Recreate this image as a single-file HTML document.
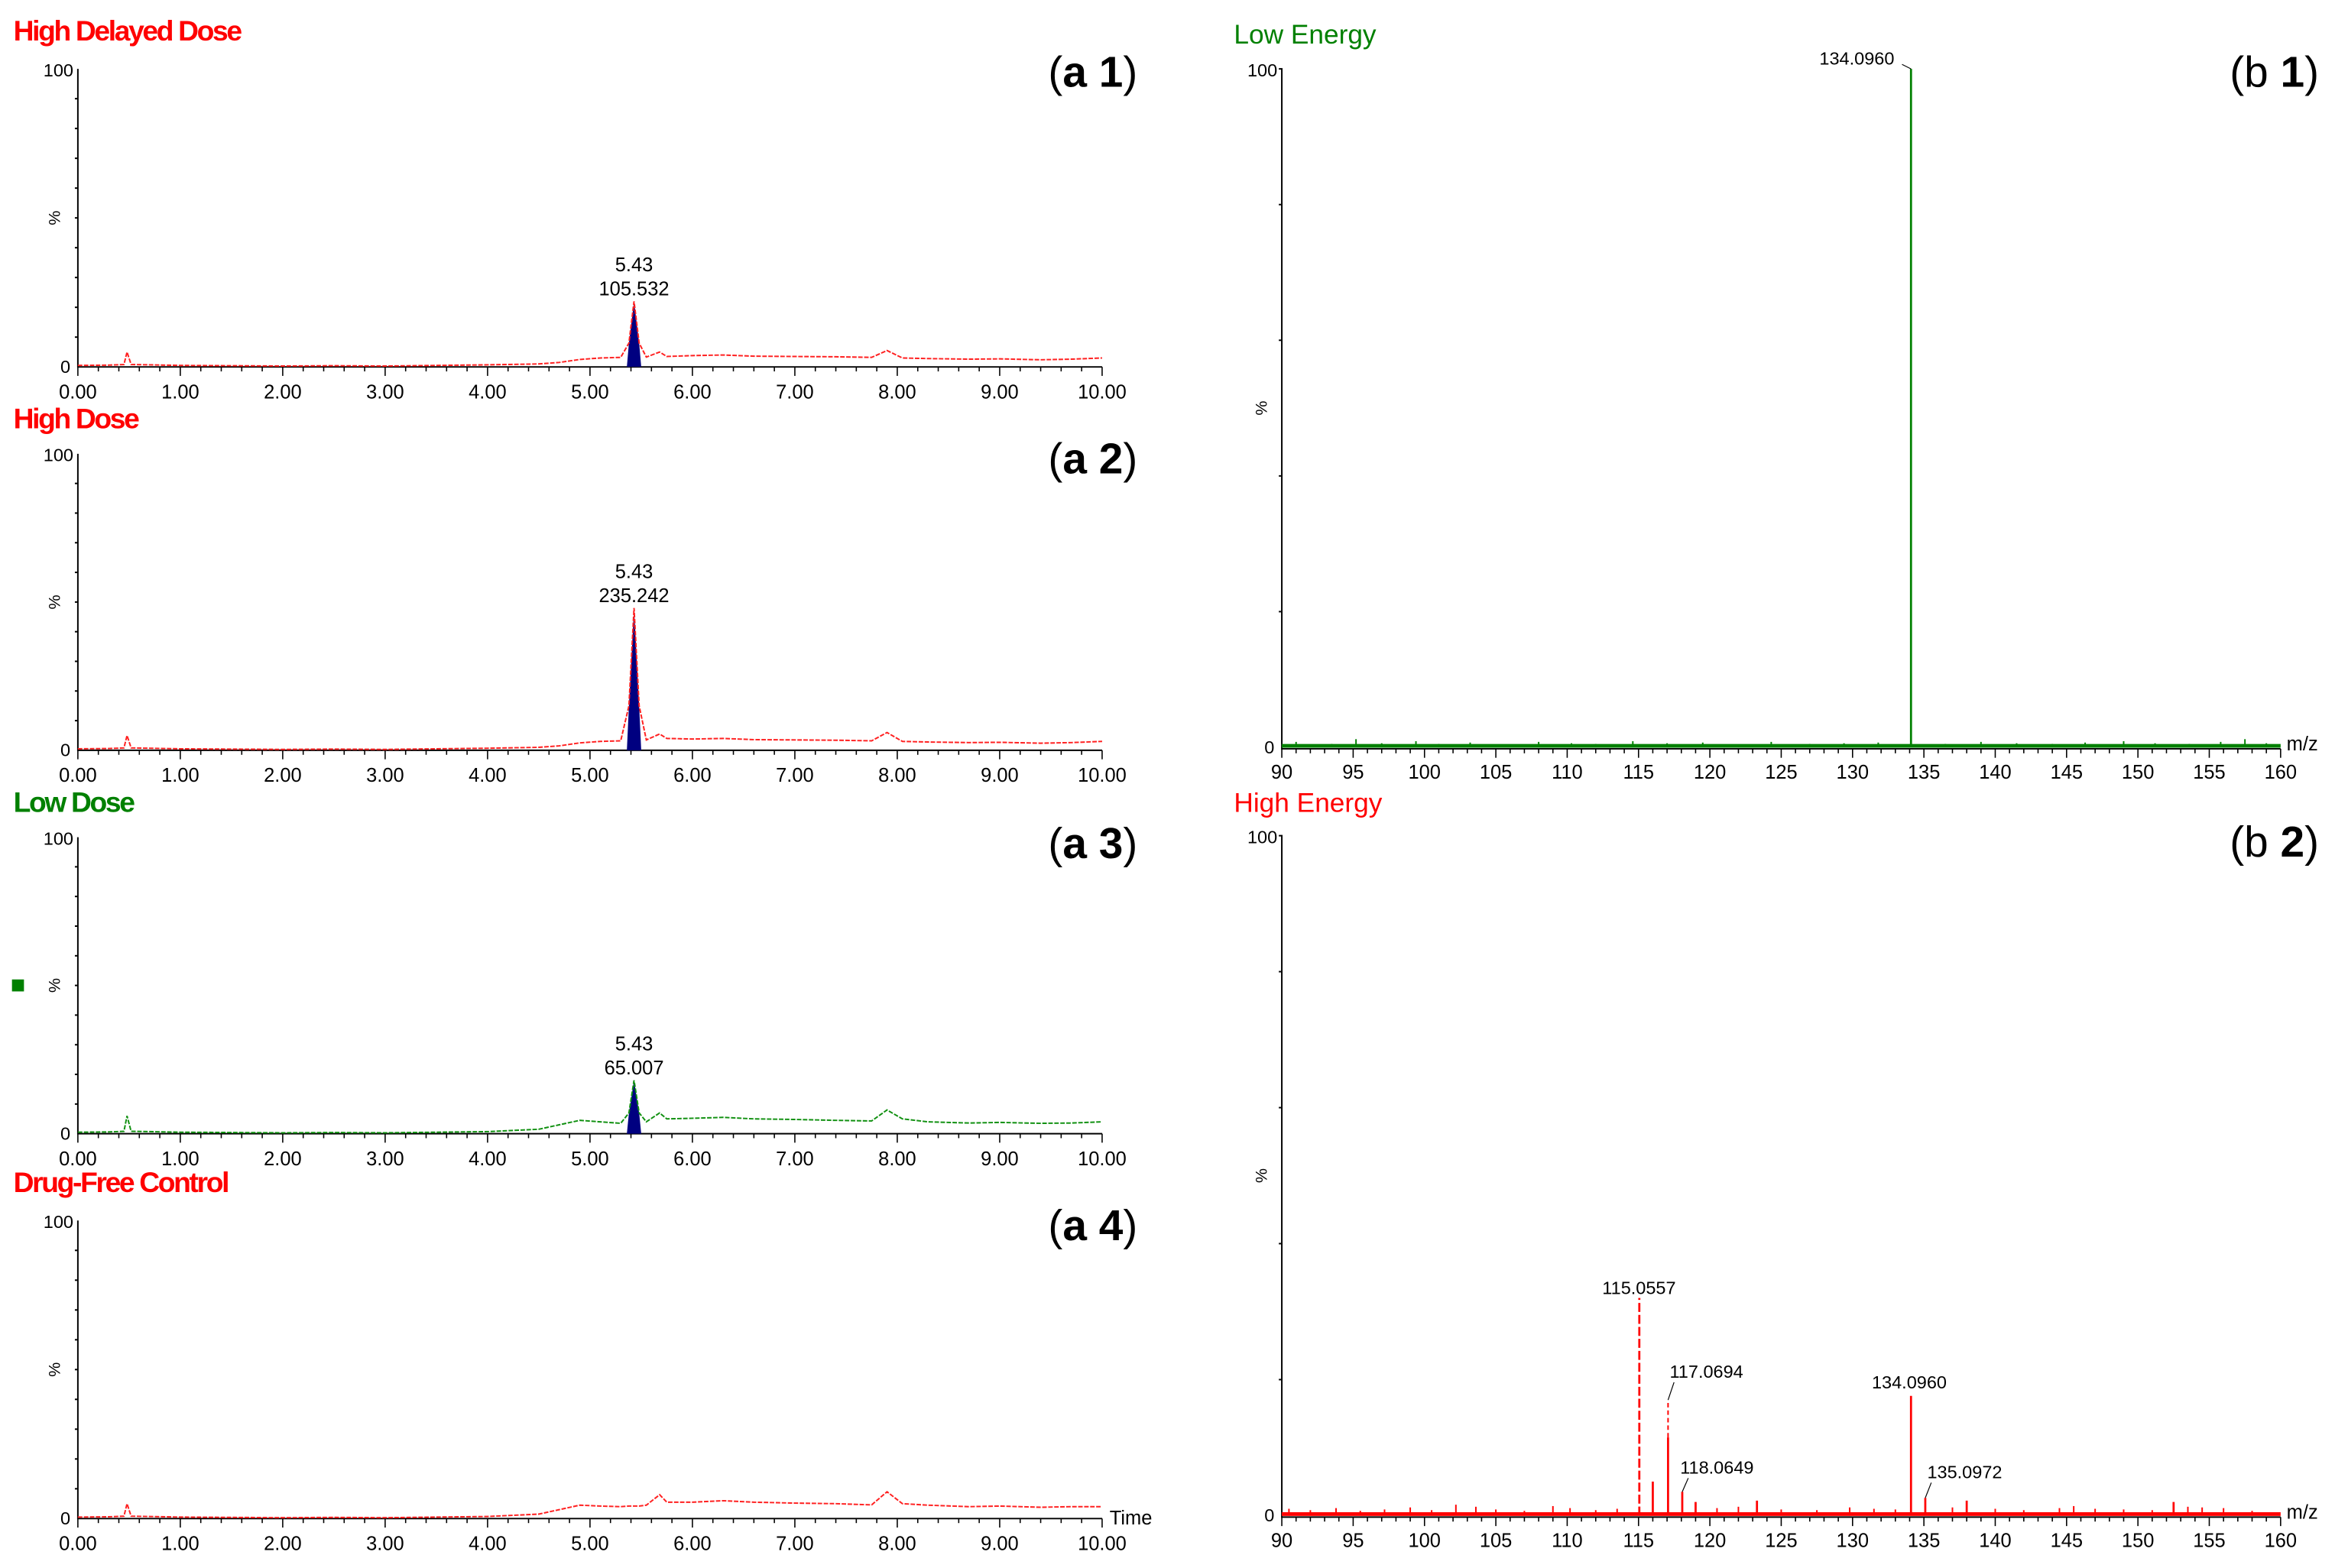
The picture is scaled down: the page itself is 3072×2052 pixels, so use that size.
<!DOCTYPE html>
<html><head><meta charset="utf-8"><style>
html,body{margin:0;padding:0;background:#fff;}
svg{display:block;}
text{font-family:"Liberation Sans",sans-serif;}
</style></head><body>
<svg id="fig" xmlns="http://www.w3.org/2000/svg" width="3072" height="2052" viewBox="0 0 1568 1047" preserveAspectRatio="none">
<rect width="1568" height="1047" fill="#fff"/>
<g id="L"></g><g id="R"></g>
<text x="9" y="27" fill="#ff0000" font-size="19" font-weight="bold" letter-spacing="-1.2">High Delayed Dose</text>
<text x="9" y="286" fill="#ff0000" font-size="19" font-weight="bold" letter-spacing="-1.2">High Dose</text>
<text x="9" y="542" fill="#008000" font-size="19" font-weight="bold" letter-spacing="-1.2">Low Dose</text>
<text x="9" y="796" fill="#ff0000" font-size="19" font-weight="bold" letter-spacing="-1.2">Drug-Free Control</text>
<rect x="8" y="654" width="8" height="8" fill="#008000"/>
<text x="700" y="58" font-size="29">(<tspan font-weight="bold">a 1</tspan>)</text>
<text x="700" y="316" font-size="29">(<tspan font-weight="bold">a 2</tspan>)</text>
<text x="700" y="573" font-size="29">(<tspan font-weight="bold">a 3</tspan>)</text>
<text x="700" y="828" font-size="29">(<tspan font-weight="bold">a 4</tspan>)</text>
<text x="1489" y="58" font-size="29">(b <tspan font-weight="bold">1</tspan>)</text>
<text x="1489" y="572" font-size="29">(b <tspan font-weight="bold">2</tspan>)</text>
<text x="824" y="29" fill="#008000" font-size="18" font-family="Liberation Serif, serif">Low Energy</text>
<text x="824" y="542" fill="#ff0000" font-size="18" font-family="Liberation Serif, serif">High Energy</text>
</svg>
<script>
// chromatogram data (time in min, intensity in %)
const times = [0,0.3,0.45,0.48,0.52,0.7,1.0,1.5,2.0,2.5,3.0,3.5,4.0,4.5,4.7,4.9,5.1,5.3,5.38,5.43,5.48,5.55,5.68,5.75,6.0,6.3,6.6,7.0,7.4,7.75,7.9,8.05,8.3,8.7,9.0,9.4,9.7,10.0];
const a1Values = [0.5,0.6,0.8,5,0.8,0.7,0.5,0.4,0.3,0.4,0.3,0.5,0.7,1.0,1.5,2.5,3,3.2,8,22,8,3.3,5,3.5,3.8,4,3.6,3.5,3.4,3.2,5.5,3,2.8,2.6,2.7,2.4,2.6,3];
const a2Values = [0.5,0.6,0.8,5,0.8,0.7,0.5,0.4,0.3,0.4,0.3,0.5,0.7,1.0,1.5,2.5,3,3.2,15,48,15,3.5,5.5,4,3.8,4,3.6,3.5,3.4,3.2,6,3,2.8,2.6,2.7,2.4,2.6,3];
const a3Values = [0.5,0.6,0.8,6,0.8,0.7,0.5,0.4,0.3,0.4,0.3,0.5,0.7,1.5,3,4.5,4,3.5,7,18,7,4,7,5,5.2,5.5,5,4.8,4.5,4.3,8,5,4,3.6,3.8,3.5,3.6,4];
const a4Values = [0.5,0.6,0.8,5,0.8,0.7,0.5,0.4,0.3,0.4,0.3,0.5,0.7,1.5,3,4.5,4.2,4,4.2,4.2,4.2,4.5,8,5.5,5.5,6,5.5,5.2,5,4.6,9,5,4.5,4,4.2,3.8,4,4];
const timeTicks = ["0.00","1.00","2.00","3.00","4.00","5.00","6.00","7.00","8.00","9.00","10.00"];
// spectra data (m/z, %)
const mzTicks = [90,95,100,105,110,115,120,125,130,135,140,145,150,155,160];
const b1Peaks = [134.096];
const b1Heights = [100];
const b1NoiseMz = [91,93.5,95.2,97,99.4,101,103.2,105.5,108,110.3,112,114.6,117,119.5,122,124.3,127,129.4,131.8,136.5,139,141.5,144,146.3,149,151.2,153.6,155.8,157.5,159];
const b1NoiseH = [0.8,0.5,1.2,0.6,0.9,0.5,0.7,0.4,0.8,0.6,0.5,0.9,0.6,0.7,0.4,0.8,0.5,0.6,0.7,0.5,0.8,0.6,0.5,0.7,0.9,0.6,0.5,0.8,1.2,0.6];
const b2Peaks = [115.0557,116,117.0694,118.0649,119,123.3,134.096,135.0972,138,152.5];
const b2Heights = [32,5,11.5,3.5,2,2.2,17.6,2.6,2.2,2.0];
const b2Ext117 = 17;
const b2NoiseMz = [90.5,92,93.8,95.5,97.2,99,100.5,102.2,103.6,105,107,109,110.2,112,113.5,120.5,122,125,127.5,129.8,131.5,133,137,140,142,144.5,145.5,147,149,151,153.5,154.5,156,158];
const b2NoiseH = [1,0.8,1.1,0.7,0.9,1.2,0.8,1.6,1.3,0.9,0.7,1.4,1.1,0.8,1,1.1,1.3,0.9,0.8,1.2,1,0.9,1.2,1,0.8,1.1,1.4,1,0.9,0.8,1.3,1.2,1.1,0.7];

const NS="http://www.w3.org/2000/svg";
function mk(tag,attrs,parent){const e=document.createElementNS(NS,tag);for(const k in attrs)e.setAttribute(k,attrs[k]);parent.appendChild(e);return e;}
const L=document.getElementById('L'), R=document.getElementById('R');

const panels=[{vals:a1Values,top:46,base:245,col:"#ff2020",label:["5.43","105.532"],name:"a1"},
{vals:a2Values,top:303,base:501,col:"#ff2020",label:["5.43","235.242"],name:"a2"},
{vals:a3Values,top:559,base:757,col:"#109010",label:["5.43","65.007"],name:"a3"},
{vals:a4Values,top:815,base:1014,col:"#ff2020",label:null,name:"a4"}];
const X0=52,X1=736;
function xT(t){return X0+(X1-X0)*t/10;}
panels.forEach((p,pi)=>{
  const yV=v=>p.base-(p.base-p.top)*v/100;
  const g=mk('g',{},L);
  
  
  const ax=mk('path',{d:`M${X0} ${p.top}V${p.base}H${X1}`,stroke:"#000","stroke-width":1,fill:"none"},g);
  
  
  for(let i=1;i<10;i++){mk('line',{x1:X0-2,x2:X0,y1:yV(i*10),y2:yV(i*10),stroke:"#000"},g);}
  const t100=mk('text',{x:X0-3,y:p.top+5,"font-size":12,"text-anchor":"end"},g);t100.textContent="100";
  
  
  const t0=mk('text',{x:X0-5,y:p.base+4,"font-size":12,"text-anchor":"end"},g);t0.textContent="0";
  
  
  const pc=mk('text',{x:0,y:0,"font-size":11,transform:`translate(${X0-12},${(p.top+p.base)/2}) rotate(-90)`,"text-anchor":"middle"},g);pc.textContent="%";
  
  
  for(let i=0;i<=50;i++){const x=xT(i*0.2);mk('line',{x1:x,x2:x,y1:p.base,y2:p.base+(i%5==0?6:3),stroke:"#000","stroke-width":0.8},g);}
  timeTicks.forEach((s,i)=>{const t=mk('text',{x:xT(i),y:p.base+21,"font-size":13,"text-anchor":"middle"},g);t.textContent=s;
    
    });
  if(pi==3){const tt=mk('text',{x:741,y:p.base+4,"font-size":13},g);tt.textContent="Time";
    
    }
  if(p.label){
    let fp=`M${xT(5.36)} ${p.base}`;
    times.forEach((t,i)=>{if(t>=5.38&&t<=5.48)fp+=`L${xT(t)} ${yV(p.vals[i])}`;});
    fp+=`L${xT(5.5)} ${p.base}Z`;
    const f=mk('path',{d:fp,fill:"#000080"},g);
    
    
    const pk=times.indexOf(5.43);
    const l1=mk('text',{x:xT(5.43),y:yV(p.vals[pk])-20,"font-size":13,"text-anchor":"middle"},g);l1.textContent=p.label[0];
    
    
    const l2=mk('text',{x:xT(5.43),y:yV(p.vals[pk])-4,"font-size":13,"text-anchor":"middle"},g);l2.textContent=p.label[1];
    
    
  }
  const d=times.map((t,i)=>(i?'L':'M')+xT(t)+' '+yV(p.vals[i])).join('');
  const tr=mk('path',{d:d,fill:"none",stroke:p.col,"stroke-width":1,"stroke-dasharray":"3 1"},g);
  
  
});

const M0=856,M1=1523;
function xM(m){return M0+(M1-M0)*(m-90)/70;}
const spectra=[{top:46,base:499,col:"#008000",pk:b1Peaks,h:b1Heights,nm:b1NoiseMz,nh:b1NoiseH,name:"b1",
  labels:[["134.0960",134.096,1215,43]]},
 {top:558,base:1012,col:"#ff0000",pk:b2Peaks,h:b2Heights,nm:b2NoiseMz,nh:b2NoiseH,name:"b2",
  labels:[["115.0557",115.0557,1070,864],["117.0694",117.0694,1115,920],["118.0649",118.0649,1122,984],["134.0960",134.096,1250,927],["135.0972",135.0972,1287,987]]}];
spectra.forEach(s=>{
  const yV=v=>s.base-(s.base-s.top)*v/100;
  const g=mk('g',{},R);
  
  
  const ax=mk('path',{d:`M${M0-2} ${s.top}H${M0}V${s.base+1}H${M1}`,stroke:"#000","stroke-width":1,fill:"none"},g);
  
  
  for(let i=1;i<5;i++){mk('line',{x1:M0-2,x2:M0,y1:yV(i*20),y2:yV(i*20),stroke:"#000"},g);}
  const t100=mk('text',{x:M0-3,y:s.top+5,"font-size":12,"text-anchor":"end"},g);t100.textContent="100";
  
  
  const t0=mk('text',{x:M0-5,y:s.base+4,"font-size":12,"text-anchor":"end"},g);t0.textContent="0";
  
  
  const pc=mk('text',{x:0,y:0,"font-size":11,transform:`translate(${M0-10},${(s.top+s.base)/2}) rotate(-90)`,"text-anchor":"middle"},g);pc.textContent="%";
  
  
  for(let m=90;m<=160;m++){const x=xM(m);mk('line',{x1:x,x2:x,y1:s.base+1,y2:s.base+(m%5==0?7:4),stroke:"#000","stroke-width":0.8},g);}
  mzTicks.forEach(m=>{const t=mk('text',{x:xM(m),y:s.base+21,"font-size":13,"text-anchor":"middle"},g);t.textContent=m;
    
    });
  const mz=mk('text',{x:M1+4,y:s.base+2,"font-size":13},g);mz.textContent="m/z";
  
  
  mk('line',{x1:M0,x2:M1,y1:s.base-1,y2:s.base-1,stroke:s.col,"stroke-width":2.5},g);
  s.nm.forEach((m,i)=>{const n=mk('line',{x1:xM(m),x2:xM(m),y1:s.base,y2:yV(s.nh[i]),stroke:s.col,"stroke-width":1},g);
    
    });
  s.pk.forEach((m,i)=>{const b=mk('line',{x1:xM(m),x2:xM(m),y1:s.base,y2:yV(s.h[i]),stroke:s.col,"stroke-width":1.4},g);
    if(s.name=="b2"&&i==0)b.setAttribute('stroke-dasharray','6 2');
    
    });
  if(s.name=="b2"){const i=s.pk.indexOf(117.0694);
    const e=mk('line',{x1:xM(117.0694),x2:xM(117.0694),y1:yV(s.h[i]),y2:yV(b2Ext117),stroke:s.col,"stroke-width":1,"stroke-dasharray":"3 2"},g);
    
    }
  s.labels.forEach(l=>{const i=s.pk.indexOf(l[1]);const x=xM(l[1]);let y=yV(s.h[i]);
    if(s.name=="b2"&&l[1]==117.0694)y=yV(b2Ext117);
    const t=mk('text',{x:l[2],y:l[3],"font-size":12},g);t.textContent=l[0];
    
    
    if(s.name=="b1")mk('path',{d:`M${x-6} ${l[3]}L${x} ${y}`,stroke:"#000","stroke-width":0.6,fill:"none"},g);
    else if(l[3]<y-10)mk('path',{d:`M${x} ${y}L${x+4} ${l[3]+3}`,stroke:"#000","stroke-width":0.6,fill:"none"},g);});
});
</script>
</body></html>
